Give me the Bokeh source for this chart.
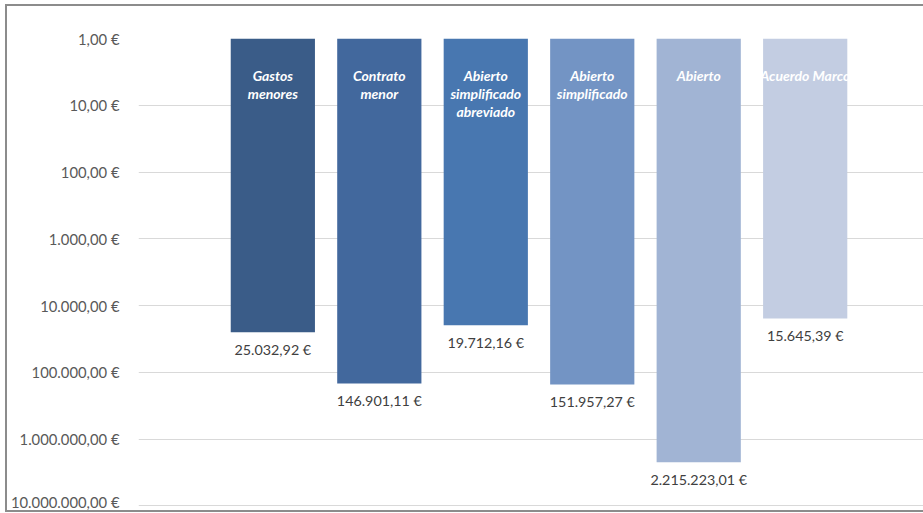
from bokeh.plotting import figure
from bokeh.models import Range1d, FixedTicker, ColumnDataSource
from bokeh.core.properties import value
from bokeh.embed import file_html
from bokeh.resources import INLINE

# ---- data ----
categories = ["Gastos menores", "Contrato menor", "Abierto simplificado abreviado",
              "Abierto simplificado", "Abierto", "Acuerdo Marco"]
bar_labels = ["Gastos\nmenores", "Contrato\nmenor", "Abierto\nsimplificado\nabreviado",
              "Abierto\nsimplificado", "Abierto", "Acuerdo Marco"]
amounts = [25032.92, 146901.11, 19712.16, 151957.27, 2215223.01, 15645.39]
bar_colors = ["#3a5c88", "#42689d", "#4877b0", "#7394c4", "#a1b4d4", "#c3cde2"]
y_ticks = [1, 10, 100, 1000, 10000, 100000, 1000000, 10000000]
y_tick_labels = ["1,00 €", "10,00 €", "100,00 €", "1.000,00 €", "10.000,00 €",
                 "100.000,00 €", "1.000.000,00 €", "10.000.000,00 €"]


def eur(v):
    s = f"{v:,.2f}"
    return s.replace(",", "X").replace(".", ",").replace("X", ".") + " €"


value_labels = [eur(v) for v in amounts]

# ---- layout ----
W, H = 918, 508          # outer size incl. 2px border (border-box)
BORDER = 2
canvas_w = W - BORDER
canvas_h = H - 2 * BORDER
FRAME_LEFT, FRAME_TOP, FRAME_BOTTOM = 131, 32, 3
frame_w = canvas_w - FRAME_LEFT
frame_h = canvas_h - FRAME_TOP - FRAME_BOTTOM
px_per_decade = 66.2
cat_px = 106.2
first_offset_px = 134.0

x = list(range(len(categories)))
src = ColumnDataSource(dict(x=x, top=amounts, bottom=[y_ticks[0]] * len(amounts),
                            color=bar_colors, lab=bar_labels, val=value_labels))

y_bottom = 10 ** (frame_h / px_per_decade)
x_start = -first_offset_px / cat_px
x_end = x_start + frame_w / cat_px

p = figure(width=W, height=H, output_backend="svg", toolbar_location=None,
           y_axis_type="log",
           x_range=Range1d(x_start, x_end), y_range=Range1d(y_bottom, y_ticks[0]),
           min_border_left=FRAME_LEFT, min_border_top=FRAME_TOP,
           min_border_bottom=FRAME_BOTTOM, min_border_right=0)
p.styles = {"margin-top": "4px", "margin-left": "5px",
            "border-top": "2px solid #8c8c8c", "border-left": "2px solid #8c8c8c",
            "border-bottom": "2px solid #8c8c8c"}
p.outline_line_color = None
p.background_fill_color = "white"
p.border_fill_color = "white"

p.xaxis.visible = False
p.xgrid.visible = False
p.yaxis.ticker = FixedTicker(ticks=y_ticks)
p.yaxis.major_label_overrides = {t: l for t, l in zip(y_ticks, y_tick_labels)}
p.yaxis.axis_line_color = None
p.yaxis.major_tick_line_color = None
p.yaxis.minor_tick_line_color = None
p.yaxis.major_label_standoff = 13
p.yaxis.major_label_text_font = "Lato"
p.yaxis.major_label_text_font_size = "14.8px"
p.yaxis.major_label_text_color = "#595959"
p.ygrid.ticker = FixedTicker(ticks=y_ticks)
p.ygrid.grid_line_color = "#d9d9d9"
p.ygrid.grid_line_width = 1

p.vbar(x="x", top="top", bottom="bottom", width=84 / cat_px, fill_color="color",
       line_color=None, source=src)

p.text(x="x", y="bottom", text="lab", source=src, text_align="center",
       text_baseline="top", y_offset=28, text_color="white",
       text_font=value("Lato"), text_font_style="bold italic",
       text_font_size="14px", text_line_height=1.06)

p.text(x="x", y="top", text="val", source=src, text_align="center",
       text_baseline="middle", y_offset=17, text_color="#404040",
       text_font=value("Lato"), text_font_size="14.3px")

open("out.html", "w").write(file_html(p, INLINE))
